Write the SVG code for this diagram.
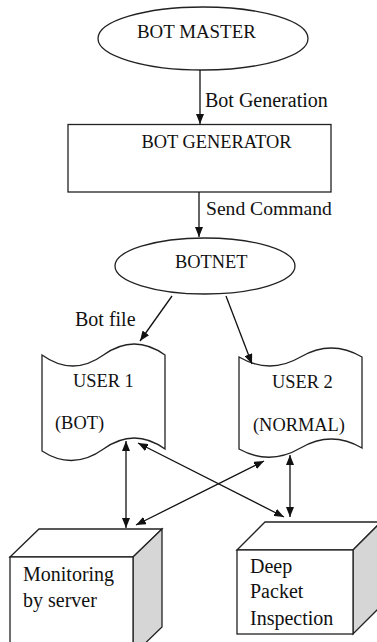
<svg xmlns="http://www.w3.org/2000/svg" width="377" height="642" viewBox="0 0 377 642">
  <style>
    .shape { fill: #ffffff; stroke: #222222; stroke-width: 1.3; }
    .side { fill: #d6d6d6; stroke: #222222; stroke-width: 1.3; stroke-linejoin: miter; }
    .edge { fill: none; stroke: #111111; stroke-width: 1.3; }
    text { font-family: "Liberation Serif", "Times New Roman", serif; font-size: 20px; fill: #111111; }
    text.caps { font-size: 18.4px; }
  </style>
  <defs>
    <marker id="arrow" viewBox="0 0 10 8" refX="10" refY="4" markerWidth="10" markerHeight="8" markerUnits="userSpaceOnUse" orient="auto-start-reverse">
      <path d="M0,0 L10,4 L0,8 Z" fill="#111111"/>
    </marker>
  </defs>
  <rect width="377" height="642" fill="#ffffff"/>

  <g id="bot-master">
    <ellipse class="shape" cx="203" cy="38.5" rx="105" ry="31.5"/>
    <text class="caps" x="137" y="38" style="font-size:18.9px">BOT MASTER</text>
  </g>

  <g id="bot-generator">
    <rect class="shape" x="68" y="124.5" width="263" height="67.5"/>
    <text class="caps" x="141.5" y="147.5">BOT GENERATOR</text>
  </g>

  <g id="botnet">
    <ellipse class="shape" cx="205" cy="266" rx="90" ry="28"/>
    <text class="caps" x="175" y="267.5">BOTNET</text>
  </g>

  <g id="user-1">
    <path class="shape" d="M42,355 Q72.75,377 103.5,355 T165,355 L165,449 Q134.25,427 103.5,449 T42,451 Z"/>
    <text class="caps" x="73" y="387">USER 1</text>
    <text class="caps" x="55" y="429">(BOT)</text>
  </g>

  <g id="user-2">
    <path class="shape" d="M239,357 Q269.75,375 300.5,357 T362,357 L362,448 Q331.25,430 300.5,448 T239,449 Z"/>
    <text class="caps" x="272" y="388">USER 2</text>
    <text class="caps" x="253" y="431">(NORMAL)</text>
  </g>

  <g id="monitoring">
    <path class="shape" d="M10,557 L39,529 L162,529 L133,557 Z"/>
    <path class="side" d="M133,557 L162,529 L162,627 L133,655 Z"/>
    <rect class="shape" x="10" y="557" width="123" height="98"/>
    <text x="23" y="581">Monitoring</text>
    <text x="23" y="607">by server</text>
  </g>

  <g id="deep-packet-inspection">
    <path class="shape" d="M237,550 L265,522 L381,522 L353,550 Z"/>
    <path class="side" d="M353,550 L381,522 L381,606 L353,634 Z"/>
    <rect class="shape" x="237" y="550" width="116" height="84"/>
    <text x="250" y="573">Deep</text>
    <text x="250" y="598">Packet</text>
    <text x="250" y="625">Inspection</text>
  </g>

  <g id="connectors">
    <line class="edge" x1="200" y1="70" x2="200" y2="124" marker-end="url(#arrow)"/>
    <text x="205" y="106.5">Bot Generation</text>
    <line class="edge" x1="199" y1="192" x2="199" y2="237" marker-end="url(#arrow)"/>
    <text x="206" y="214.5" style="font-size:19.6px">Send Command</text>
    <line class="edge" x1="172" y1="296" x2="140" y2="341" marker-end="url(#arrow)"/>
    <text x="75" y="326">Bot file</text>
    <line class="edge" x1="226" y1="296" x2="252" y2="364" marker-end="url(#arrow)"/>
    <line class="edge" x1="126" y1="441" x2="126" y2="528" marker-start="url(#arrow)" marker-end="url(#arrow)"/>
    <line class="edge" x1="138" y1="443" x2="284" y2="517" marker-start="url(#arrow)" marker-end="url(#arrow)"/>
    <line class="edge" x1="264" y1="461" x2="136" y2="525" marker-start="url(#arrow)" marker-end="url(#arrow)"/>
    <line class="edge" x1="290" y1="455" x2="290" y2="517" marker-start="url(#arrow)" marker-end="url(#arrow)"/>
  </g>
</svg>
